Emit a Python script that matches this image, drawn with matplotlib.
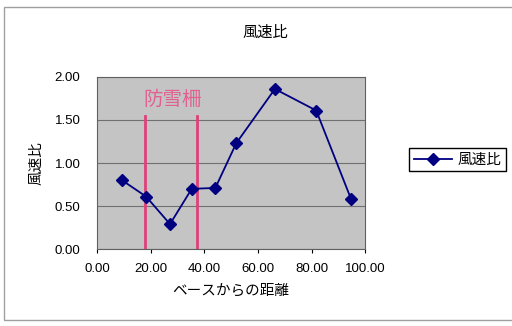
import matplotlib.pyplot as plt
from matplotlib.patches import Rectangle

plt.rcParams['font.family'] = ['Liberation Sans', 'Noto Sans CJK JP', 'DejaVu Sans']

# distance from base vs wind speed ratio
x_dist = [9.3, 18.3, 27.2, 35.3, 44.1, 51.9, 66.3, 81.7, 94.7]
y_ratio = [0.80, 0.61, 0.29, 0.70, 0.71, 1.23, 1.86, 1.61, 0.58]

# snow fence positions
fence_x = [18.0, 37.2]
fence_top = 1.55
fence_label = '防雪柵'
series_name = '風速比'

fig = plt.figure(figsize=(5.12, 3.26), dpi=100)
fig.patches.append(Rectangle((0.008, 0.018), 1.2, 0.96, transform=fig.transFigure,
                             fill=False, edgecolor='#a0a0a0', linewidth=1.0))

ax = fig.add_axes([0.1895, 0.236, 0.524, 0.528])
ax.set_facecolor('#c4c4c4')

ax.set_xlim(0, 100)
ax.set_ylim(0, 2)
ax.set_xticks([0, 20, 40, 60, 80, 100])
ax.set_yticks([0, 0.5, 1.0, 1.5, 2.0])
ax.xaxis.set_major_formatter(lambda v, p: f'{v:.2f}')
ax.yaxis.set_major_formatter(lambda v, p: f'{v:.2f}')
ax.grid(axis='y', color='#707070', linewidth=0.8)
ax.set_axisbelow(True)
ax.tick_params(labelsize=9.5, length=3, direction='out', colors='black')
ax.tick_params(axis='y', pad=12, length=0)
ax.tick_params(axis='x', pad=7)
for s in ax.spines.values():
    s.set_color('#606060')
    s.set_linewidth(0.8)

for fx in fence_x:
    ax.plot([fx, fx], [0, fence_top], color='#e0407a', linewidth=2)
ax.text(28.2, 1.73, fence_label, color='#e06090', fontsize=14,
        ha='center', va='center')

ax.plot(x_dist, y_ratio, color='#000080', linewidth=1.3, marker='D',
        markersize=6.5, markerfacecolor='#000080', label=series_name)

ax.set_xlabel('ベースからの距離', fontsize=10.5, labelpad=6)
ax.set_ylabel('風速比', fontsize=10.5, labelpad=8)
fig.text(0.518, 0.898, '風速比', fontsize=11, ha='center', va='center')

fig.legend(loc='center left', bbox_to_anchor=(0.785, 0.51), fontsize=10.5,
           frameon=True, fancybox=False, edgecolor='black', framealpha=1,
           handlelength=2.6, handletextpad=0.4, borderpad=0.3, markerscale=0.9)

fig.savefig('out.png', dpi=100)
